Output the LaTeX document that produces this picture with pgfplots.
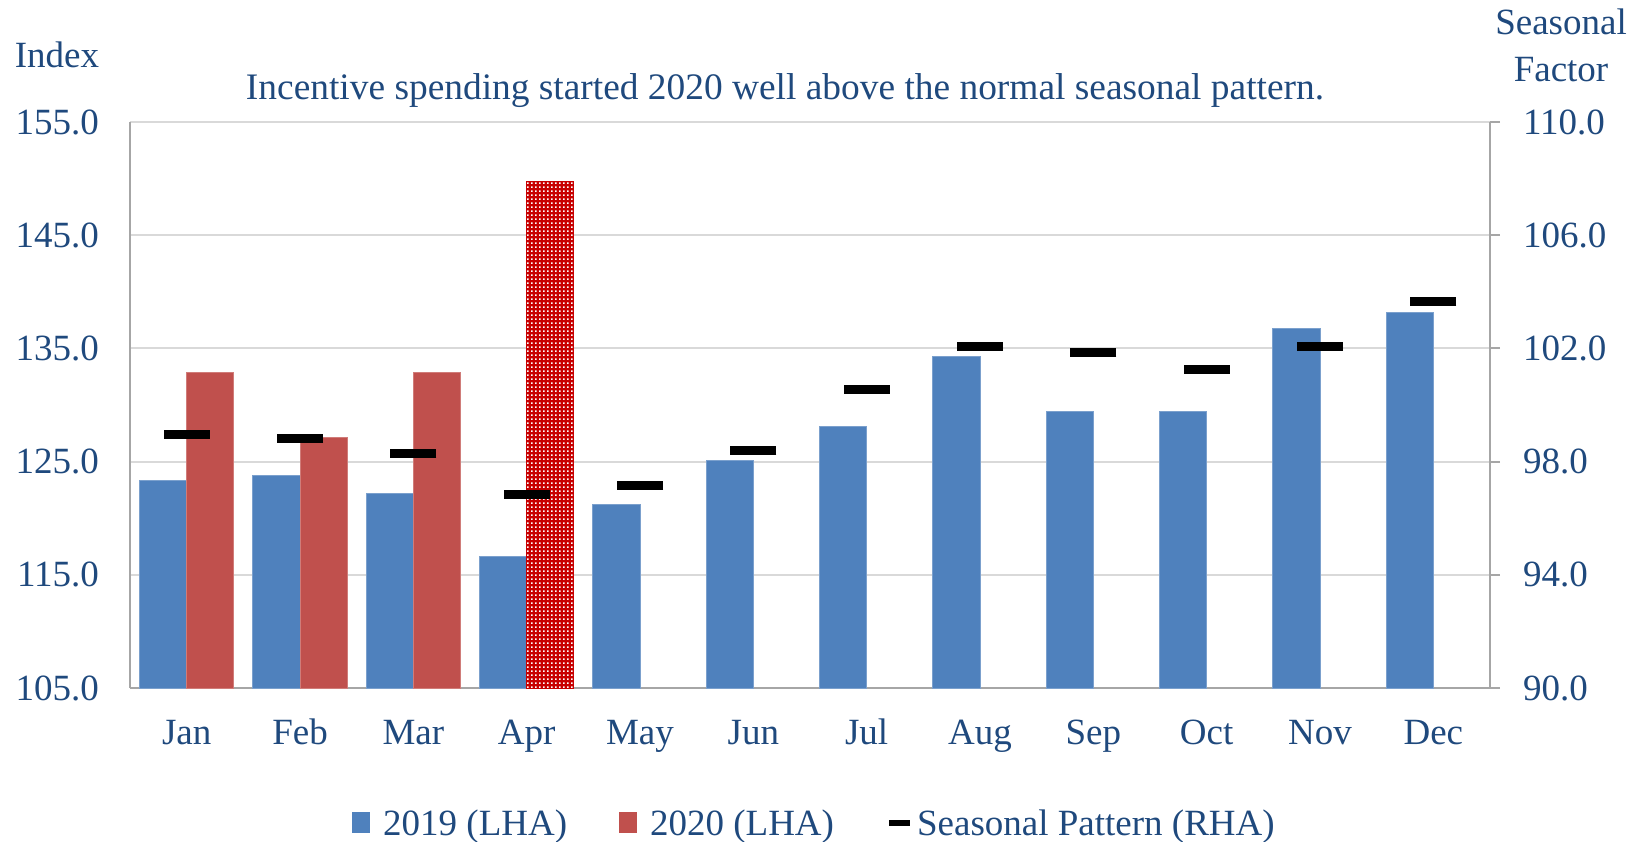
\documentclass[border=0pt]{standalone}
\usepackage{pgfplots}
\usepackage{pgfplotstable}
\pgfplotsset{compat=1.18}
\usepackage{fontspec}
\setmainfont{Liberation Serif}
\usetikzlibrary{patterns}
\definecolor{txt}{RGB}{31,73,125}
\definecolor{b19}{RGB}{79,129,189}
\definecolor{r20}{RGB}{192,80,77}
\definecolor{apr}{RGB}{200,0,0}
\definecolor{gridc}{RGB}{217,217,217}
\definecolor{axc}{RGB}{166,166,166}
\pgfdeclarepatternformonly{mydots}{\pgfpointorigin}{\pgfpoint{2.2pt}{2.2pt}}{\pgfpoint{2.2pt}{2.2pt}}{\pgfpathrectangle{\pgfpointorigin}{\pgfpoint{0.9pt}{0.9pt}}\pgfusepath{fill}}

\pgfplotstableread{
x v
0 123.3
1 123.8
2 122.2
3 116.6
4 121.2
5 125.1
6 128.1
7 134.3
8 129.4
9 129.4
10 136.8
11 138.2
}\dataA
\pgfplotstableread{
x v
0 132.9
1 127.1
2 132.9
}\dataB
\pgfplotstableread{
x v
3 149.7
}\dataC
\pgfplotstableread{
x v
0 98.96
1 98.82
2 98.30
3 96.85
4 97.15
5 98.40
6 100.56
7 102.07
8 101.85
9 101.26
10 102.07
11 103.67
}\dataS

\newcommand{\fs}{\fontsize{18.5}{22}\selectfont}

\begin{document}
\begin{tikzpicture}
\useasboundingbox (0,0) rectangle (822pt,420.5pt);
\begin{axis}[
  at={(65pt,76.5pt)}, anchor=south west,
  scale only axis, width=680pt, height=283pt,
  xmin=-0.5, xmax=11.5, ymin=105, ymax=155,
  ytick={105,115,...,155},
  xtick={0,...,11},
  xticklabels={Jan,Feb,Mar,Apr,May,Jun,Jul,Aug,Sep,Oct,Nov,Dec},
  axis x line*=bottom, axis y line*=left,
  axis line style={axc, line width=1pt, -},
  major tick length=0pt,
  ymajorgrids, grid style={gridc, line width=1pt},
  tick label style={font=\fs, text=txt},
  yticklabel style={/pgf/number format/fixed, /pgf/number format/fixed zerofill, /pgf/number format/precision=1, /pgf/number format/assume math mode=true, xshift=-12pt},
  xticklabel style={yshift=-12pt, text height=12.5pt, text depth=4pt},
  legend style={at={(0.504,-0.240)}, anchor=center, draw=none, fill=none,
    legend columns=3, font=\fs, text=txt,
    /tikz/every even column/.append style={column sep=24pt}},
  legend cell align=left,
]
\addplot[ybar, bar width=0.415, bar shift=-0.2075, fill=b19, draw=b19!75!white, line width=0.5pt,
  legend image code/.code={\fill[b19] (0pt,-4.5pt) rectangle (8.5pt,5.5pt); \path (13pt,0pt);}] table[x=x,y=v] {\dataA};
\addlegendentry{2019 (LHA)}
\addplot[ybar, bar width=0.415, bar shift=0.2075, fill=r20, draw=r20!75!white, line width=0.5pt,
  legend image code/.code={\fill[r20] (0pt,-4.5pt) rectangle (8.5pt,5.5pt); \path (13pt,0pt);}] table[x=x,y=v] {\dataB};
\addlegendentry{2020 (LHA)}
\addplot[ybar, bar width=0.415, bar shift=0.2075, fill=apr, draw=apr, line width=0.5pt,
  postaction={pattern=mydots, pattern color=white}, forget plot] table[x=x,y=v] {\dataC};
\addlegendimage{legend image code/.code={\draw[black, line width=3pt] (0pt,0.5pt) -- (10.5pt,0.5pt);}}
\addlegendentry{Seasonal Pattern (RHA)}
\end{axis}
\begin{axis}[
  at={(65pt,76.5pt)}, anchor=south west,
  scale only axis, width=680pt, height=283pt,
  xmin=-0.5, xmax=11.5, ymin=90, ymax=110,
  ytick={90,94,...,110},
  axis x line=none, axis y line*=right,
  axis line style={axc, line width=1pt, -},
  ytick align=outside, major tick length=5pt,
  tick style={axc, line width=1pt},
  tick label style={font=\fs, text=txt},
  yticklabel style={/pgf/number format/fixed, /pgf/number format/fixed zerofill, /pgf/number format/precision=1, /pgf/number format/assume math mode=true, xshift=8pt},
]
\addplot[only marks, mark=-, mark size=11.5pt, mark options={line width=4.5pt, black}] table[x=x,y=v] {\dataS};
\end{axis}
\node[font=\fs, text=txt, anchor=base] at (28.5pt,386.5pt) {Index};
\node[font=\fs, text=txt, anchor=base] at (780.5pt,403pt) {Seasonal};
\node[font=\fs, text=txt, anchor=base] at (780.5pt,379.5pt) {Factor};
\node[font=\fontsize{18.7}{22}\selectfont, text=txt, anchor=base] at (392.5pt,370.5pt) {Incentive spending started 2020 well above the normal seasonal pattern.};
\end{tikzpicture}
\end{document}
